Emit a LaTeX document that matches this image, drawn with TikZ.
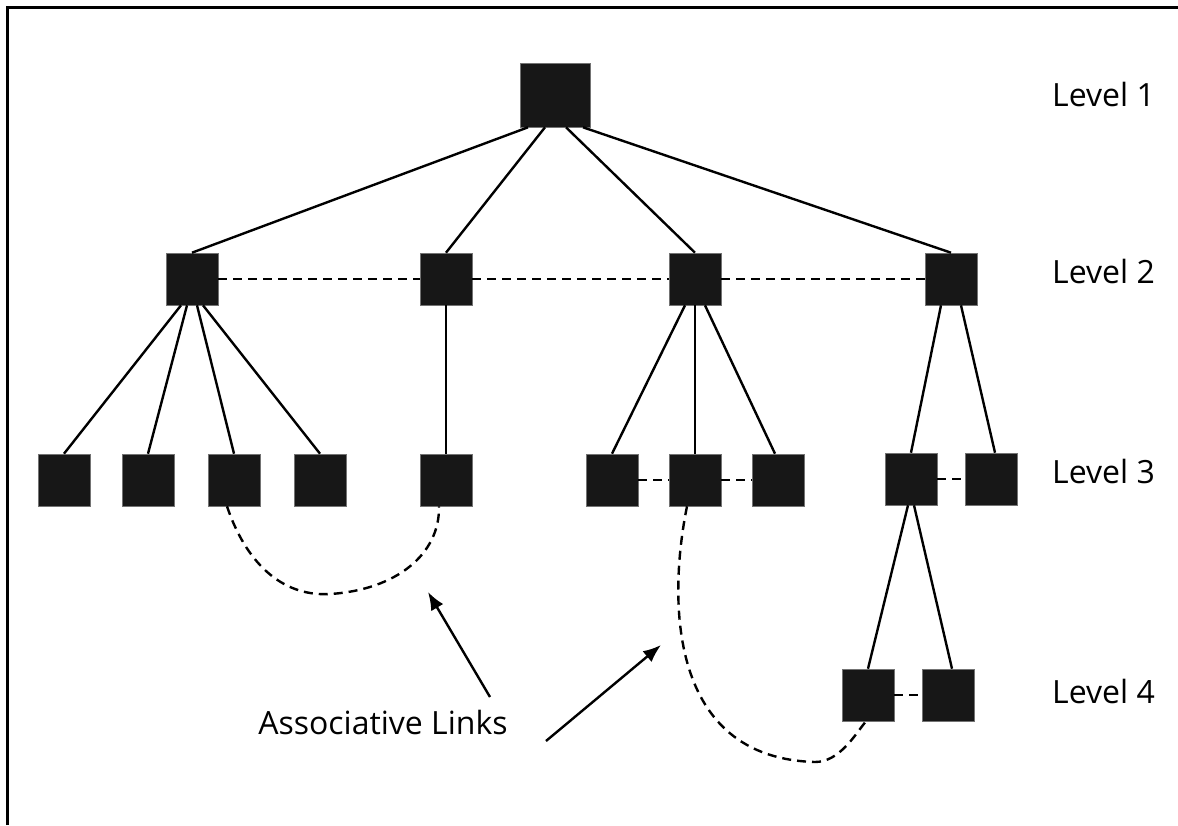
\documentclass[tikz,border=0pt]{standalone}
\usepackage{fontspec}
\setmainfont{Open Sans}
\usetikzlibrary{arrows.meta,calc}
\begin{document}
\begin{tikzpicture}[x=1pt,y=-1pt,
  box/.style={fill=black!91,draw=black!55,line width=0.6pt,minimum width=52pt,minimum height=52pt,inner sep=0pt},
  edge/.style={line width=2.4pt},
  assoc/.style={line width=2.4pt,dash pattern=on 9pt off 6pt},
  pointer/.style={line width=2.4pt,-{Latex[length=18pt,width=14pt]}},
  lbl/.style={font=\fontsize{32}{38}\selectfont,anchor=base west,inner sep=0pt}]
\useasboundingbox (0,0) rectangle (1178,825);
\draw[line width=3pt] (7.5,825) -- (7.5,7.5) -- (1178,7.5);
% level 1
\node[box,minimum width=70pt,minimum height=64pt] (r) at (555,95) {};
% level 2
\node[box] (a) at (192,279) {};
\node[box] (b) at (446,279) {};
\node[box] (c) at (695,279) {};
\node[box] (d) at (951,279) {};
% level 3
\node[box] (a1) at (64,480) {};
\node[box] (a2) at (148,480) {};
\node[box] (a3) at (234,480) {};
\node[box] (a4) at (320,480) {};
\node[box] (b1) at (446,480) {};
\node[box] (c1) at (612,480) {};
\node[box] (c2) at (695,480) {};
\node[box] (c3) at (778,480) {};
\node[box] (d1) at (911,479) {};
\node[box] (d2) at (991,479) {};
% level 4
\node[box] (e1) at (868,695) {};
\node[box] (e2) at (948,695) {};
% tree edges
\draw[edge] ($(r.south)+(-27,0)$) -- (a.north);
\draw[edge] ($(r.south)+(-10,0)$) -- (b.north);
\draw[edge] ($(r.south)+(11,0)$) -- (c.north);
\draw[edge] ($(r.south)+(28,0)$) -- (d.north);
\draw[edge] ($(a.south)+(-11,0)$) -- (a1.north);
\draw[edge] ($(a.south)+(-5,0)$) -- (a2.north);
\draw[edge] ($(a.south)+(5,0)$) -- (a3.north);
\draw[edge] ($(a.south)+(11,0)$) -- (a4.north);
\draw[edge] (b.south) -- (b1.north);
\draw[edge] ($(c.south)+(-10,0)$) -- (c1.north);
\draw[edge] (c.south) -- (c2.north);
\draw[edge] ($(c.south)+(10,0)$) -- ($(c3.north)+(-3,0)$);
\draw[edge] ($(d.south)+(-10,0)$) -- (d1.north);
\draw[edge] ($(d.south)+(10,0)$) -- ($(d2.north)+(4,0)$);
\draw[edge] ($(d1.south)+(-3,0)$) -- (e1.north);
\draw[edge] ($(d1.south)+(3,0)$) -- ($(e2.north)+(4,0)$);
% sibling dashed links
\draw[assoc] (a.east) -- (b.west);
\draw[assoc] (b.east) -- (c.west);
\draw[assoc] (c.east) -- (d.west);
\draw[assoc] (c1.east) -- (c2.west);
\draw[assoc] (c2.east) -- (c3.west);
\draw[assoc] (d1.east) -- (d2.west);
\draw[assoc] (e1.east) -- (e2.west);
% associative links
\draw[assoc] ($(a3.south)+(-7,0)$) .. controls (245,560) and (280,597) .. (330,594)
  .. controls (395,590) and (440,555) .. ($(b1.south)+(-7,0)$);
\draw[assoc] ($(c2.south)+(-8,0)$) .. controls (668,600) and (668,758) .. (815,762)
  .. controls (840,762) and (856,733) .. ($(e1.south)+(-2,0)$);
% labels
\node[lbl] (l1) at (1052,106) {Level 1};
\node[lbl] (l2) at (1052,283) {Level 2};
\node[lbl] (l3) at (1052,483) {Level 3};
\node[lbl] (l4) at (1052,703) {Level 4};
\node[font=\fontsize{32}{38}\selectfont,anchor=base,inner sep=0pt] (al) at (383,734) {Associative Links};
\coordinate (t1) at (428,592);
\coordinate (t2) at (661,645);
\draw[pointer] (490,697) -- (t1);
\draw[pointer] (546,741) -- (t2);
\end{tikzpicture}
\end{document}
